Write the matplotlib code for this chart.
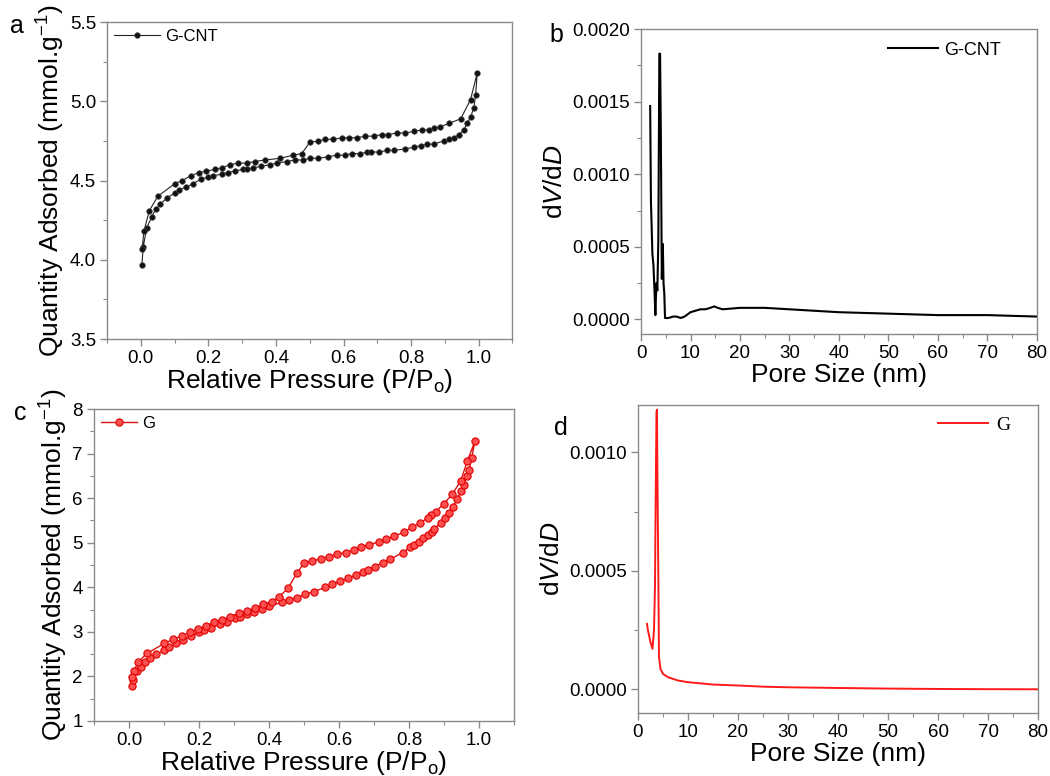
"""
Nitrogen sorption isotherms and pore size distributions
for the G-CNT and G samples (four panel figure).
"""
import matplotlib.pyplot as plt
from matplotlib.ticker import MultipleLocator

plt.rcParams['font.family'] = ['Liberation Sans', 'DejaVu Sans']
plt.rcParams['mathtext.fontset'] = 'custom'
plt.rcParams['mathtext.rm'] = 'Liberation Sans'
plt.rcParams['mathtext.it'] = 'Liberation Sans:italic'

# G-CNT isotherm, adsorption branch then desorption branch
gcnt_ads_p = [0.003, 0.007, 0.017, 0.032, 0.044, 0.057, 0.077, 0.10, 0.113, 0.135,
              0.154, 0.179, 0.199, 0.214, 0.239, 0.258, 0.278, 0.303, 0.313, 0.333,
              0.357, 0.382, 0.402, 0.432, 0.456, 0.481, 0.50, 0.525, 0.555, 0.58,
              0.605, 0.625, 0.65, 0.67, 0.68, 0.705, 0.73, 0.75, 0.783, 0.808,
              0.828, 0.848, 0.867, 0.897, 0.912, 0.927, 0.942, 0.956, 0.966, 0.976,
              0.986, 0.991, 0.996]
gcnt_ads_q = [3.97, 4.08, 4.20, 4.27, 4.32, 4.35, 4.39, 4.42, 4.44, 4.46,
              4.48, 4.51, 4.52, 4.53, 4.54, 4.55, 4.56, 4.57, 4.57, 4.58,
              4.59, 4.60, 4.61, 4.62, 4.63, 4.63, 4.64, 4.64, 4.65, 4.66,
              4.66, 4.67, 4.67, 4.68, 4.68, 4.68, 4.69, 4.69, 4.70, 4.71,
              4.72, 4.73, 4.73, 4.75, 4.76, 4.77, 4.79, 4.82, 4.86, 4.90,
              4.96, 5.04, 5.18]
gcnt_des_p = [0.976, 0.947, 0.912, 0.887, 0.867, 0.852, 0.833, 0.808, 0.783, 0.758,
              0.733, 0.713, 0.689, 0.664, 0.64, 0.615, 0.595, 0.57, 0.546, 0.525,
              0.50, 0.476, 0.451, 0.412, 0.368, 0.338, 0.313, 0.289, 0.264, 0.239,
              0.219, 0.194, 0.171, 0.147, 0.123, 0.10, 0.05, 0.025, 0.009, 0.004]
gcnt_des_q = [5.01, 4.89, 4.86, 4.84, 4.83, 4.82, 4.82, 4.81, 4.80, 4.80,
              4.79, 4.79, 4.78, 4.78, 4.77, 4.77, 4.77, 4.76, 4.76, 4.75,
              4.74, 4.67, 4.66, 4.64, 4.63, 4.62, 4.61, 4.61, 4.60, 4.58,
              4.57, 4.56, 4.55, 4.53, 4.50, 4.48, 4.40, 4.31, 4.18, 4.07]

# G-CNT pore size distribution
gcnt_pore = [1.85, 2.0, 2.3, 2.5, 2.7, 2.9, 3.1, 3.3, 3.5, 3.7, 3.85, 4.0, 4.2,
             4.4, 4.55, 4.7, 4.85, 5.5, 6.5, 7.2, 8.0, 8.8, 10, 11, 12, 13, 14,
             14.8, 15.5, 16.5, 20, 25, 30, 40, 50, 60, 70, 80]
gcnt_dvdd = [0.00147, 0.00082, 0.00045, 0.00038, 0.00022, 0.00003, 0.00025,
             0.00020, 0.00055, 0.00183, 0.00183, 0.00130, 0.00028, 0.00052,
             0.00025, 0.00018, 0.00001, 0.00001, 0.00002, 0.00002, 0.00001,
             0.00002, 0.00005, 0.00006, 0.00007, 0.00007, 0.00008, 0.00009,
             0.00008, 0.00007, 0.00008, 0.00008, 0.00007, 0.00005, 0.00004,
             0.00003, 0.00003, 0.00002]

# G isotherm, adsorption branch then desorption branch
g_ads_p = [0.008, 0.012, 0.022, 0.033, 0.045, 0.059, 0.078, 0.101, 0.114, 0.135,
           0.155, 0.177, 0.201, 0.213, 0.235, 0.259, 0.28, 0.303, 0.316, 0.336,
           0.358, 0.381, 0.401, 0.436, 0.458, 0.481, 0.502, 0.528, 0.561, 0.581,
           0.602, 0.626, 0.648, 0.67, 0.682, 0.703, 0.725, 0.747, 0.782, 0.804,
           0.815, 0.828, 0.841, 0.853, 0.865, 0.872, 0.891, 0.903, 0.915, 0.926,
           0.937, 0.948, 0.957, 0.965, 0.972, 0.979, 0.989]
g_ads_q = [1.79, 1.93, 2.12, 2.22, 2.32, 2.41, 2.50, 2.59, 2.65, 2.74,
           2.82, 2.91, 2.99, 3.04, 3.09, 3.17, 3.23, 3.30, 3.33, 3.39,
           3.45, 3.51, 3.58, 3.66, 3.72, 3.77, 3.84, 3.90, 4.00, 4.07,
           4.13, 4.20, 4.28, 4.35, 4.39, 4.46, 4.55, 4.63, 4.78, 4.90,
           4.96, 5.02, 5.10, 5.17, 5.25, 5.31, 5.45, 5.55, 5.67, 5.81,
           5.97, 6.15, 6.30, 6.50, 6.63, 6.91, 7.29]
g_des_p = [0.967, 0.948, 0.924, 0.90, 0.877, 0.863, 0.853, 0.832, 0.808, 0.785,
           0.758, 0.735, 0.713, 0.687, 0.664, 0.642, 0.619, 0.595, 0.572, 0.548,
           0.524, 0.50, 0.479, 0.455, 0.429, 0.408, 0.384, 0.36, 0.336, 0.313,
           0.289, 0.265, 0.242, 0.221, 0.197, 0.173, 0.152, 0.126, 0.101, 0.052,
           0.027, 0.014, 0.008]
g_des_q = [6.84, 6.39, 6.09, 5.88, 5.70, 5.62, 5.56, 5.44, 5.35, 5.23,
           5.15, 5.08, 5.02, 4.95, 4.91, 4.84, 4.78, 4.74, 4.69, 4.64,
           4.59, 4.54, 4.31, 3.98, 3.79, 3.68, 3.62, 3.53, 3.47, 3.42,
           3.34, 3.27, 3.21, 3.14, 3.06, 2.99, 2.91, 2.83, 2.74, 2.52,
           2.33, 2.13, 1.99]

# G pore size distribution
g_pore = [1.8, 2.0, 2.5, 2.9, 3.2, 3.4, 3.5, 3.7, 3.8, 3.9, 4.05, 4.2, 4.5,
          5.0, 6.0, 8.0, 10, 15, 20, 25, 30, 40, 50, 60, 70, 80]
g_dvdd = [0.000276, 0.000248, 0.000199, 0.000171, 0.000248, 0.00043, 0.00071,
          0.00117, 0.00118, 0.00088, 0.00053, 0.000135, 0.000086, 0.000065,
          0.000051, 0.000037, 0.00003, 0.00002, 0.000016, 0.000011, 0.0000085,
          0.0000056, 0.000003, 0.0000014, 0.0000005, 0.0]

SPINE = '#8a8a8a'
TICK_SIZE = 13.5
LABEL_SIZE = 19


def style_axes(ax):
    """Grey frame, outward ticks on bottom and left only."""
    for side in ax.spines.values():
        side.set_color(SPINE)
        side.set_linewidth(1.0)
    ax.tick_params(which='both', direction='out', color=SPINE,
                   labelsize=TICK_SIZE, top=False, right=False)
    ax.tick_params(which='major', length=5, width=1.0, pad=3)
    ax.tick_params(which='minor', length=3, width=0.8)


fig = plt.figure(figsize=(10.5, 7.76), dpi=100)

ax_a = fig.add_axes([0.102, 0.5631, 0.386, 0.4085])
ax_b = fig.add_axes([0.6105, 0.5696, 0.377, 0.393])
ax_c = fig.add_axes([0.0895, 0.0709, 0.40, 0.402])
ax_d = fig.add_axes([0.6076, 0.0812, 0.381, 0.397])

# panel a: G-CNT isotherm
ax_a.plot(gcnt_ads_p + gcnt_des_p, gcnt_ads_q + gcnt_des_q, color='#222222',
          lw=0.8, marker='o', ms=4, mfc='#111111', mec='#444444', mew=0.5,
          label='G-CNT')
ax_a.set_xlim(-0.1, 1.1)
ax_a.set_ylim(3.5, 5.5)
ax_a.xaxis.set_minor_locator(MultipleLocator(0.1))
ax_a.yaxis.set_major_locator(MultipleLocator(0.5))
ax_a.yaxis.set_minor_locator(MultipleLocator(0.25))
ax_a.set_xticks([0.0, 0.2, 0.4, 0.6, 0.8, 1.0])
ax_a.set_xlabel('Relative Pressure (P/P$_{\\rm o}$)', fontsize=LABEL_SIZE, labelpad=0)
ax_a.set_ylabel('Quantity Adsorbed (mmol.g$^{-1}$)', fontsize=LABEL_SIZE, labelpad=2)
ax_a.legend(loc='upper left', frameon=False, fontsize=12, handlelength=2.8,
            borderaxespad=0.1, handletextpad=0.3, borderpad=0.3)

# panel b: G-CNT pore size distribution
ax_b.plot(gcnt_pore, gcnt_dvdd, color='black', lw=1.5, label='G-CNT')
ax_b.set_xlim(0, 80)
ax_b.set_ylim(-0.0001, 0.0020)
ax_b.xaxis.set_major_locator(MultipleLocator(10))
ax_b.xaxis.set_minor_locator(MultipleLocator(5))
ax_b.yaxis.set_major_locator(MultipleLocator(0.0005))
ax_b.yaxis.set_minor_locator(MultipleLocator(0.00025))
ax_b.yaxis.set_major_formatter(lambda v, pos: f'{v:.4f}')
ax_b.set_xlabel('Pore Size (nm)', fontsize=LABEL_SIZE, labelpad=1)
ax_b.set_ylabel('d$\\it{V}$/d$\\it{D}$', fontsize=LABEL_SIZE, labelpad=4)
ax_b.legend(loc='upper right', frameon=False, fontsize=13, handlelength=2.8,
            borderaxespad=0.3, handletextpad=0.3, bbox_to_anchor=(0.94, 1.0))

# panel c: G isotherm
ax_c.plot(g_ads_p + g_des_p, g_ads_q + g_des_q, color='#e01010', lw=1.0,
          marker='o', ms=5.2, mfc='#ff5050', mec='#e00000', mew=0.8, label='G')
ax_c.set_xlim(-0.1, 1.1)
ax_c.set_ylim(1, 8)
ax_c.set_xticks([0.0, 0.2, 0.4, 0.6, 0.8, 1.0])
ax_c.xaxis.set_minor_locator(MultipleLocator(0.1))
ax_c.yaxis.set_major_locator(MultipleLocator(1))
ax_c.yaxis.set_minor_locator(MultipleLocator(0.5))
ax_c.set_xlabel('Relative Pressure (P/P$_{\\rm o}$)', fontsize=LABEL_SIZE, labelpad=0)
ax_c.set_ylabel('Quantity Adsorbed (mmol.g$^{-1}$)', fontsize=LABEL_SIZE, labelpad=2)
ax_c.legend(loc='upper left', frameon=False, fontsize=12, handlelength=2.2,
            borderaxespad=0.1, handletextpad=0.3, borderpad=0.3)

# panel d: G pore size distribution
ax_d.plot(g_pore, g_dvdd, color='#ff1a1a', lw=1.4, label='G')
ax_d.set_xlim(0, 80)
ax_d.set_ylim(-0.0001, 0.0012)
ax_d.xaxis.set_major_locator(MultipleLocator(10))
ax_d.xaxis.set_minor_locator(MultipleLocator(5))
ax_d.yaxis.set_major_locator(MultipleLocator(0.0005))
ax_d.yaxis.set_minor_locator(MultipleLocator(0.00025))
ax_d.yaxis.set_major_formatter(lambda v, pos: f'{v:.4f}')
ax_d.set_xlabel('Pore Size (nm)', fontsize=LABEL_SIZE, labelpad=1)
ax_d.set_ylabel('d$\\it{V}$/d$\\it{D}$', fontsize=LABEL_SIZE, labelpad=4)
ax_d.legend(loc='upper right', frameon=False, handlelength=2.6,
            borderaxespad=0.2, handletextpad=0.4,
            prop={'family': 'Liberation Serif', 'size': 14},
            bbox_to_anchor=(0.96, 1.0))

for ax in (ax_a, ax_b, ax_c, ax_d):
    style_axes(ax)

# panel letters
fig.text(0.016, 0.966, 'a', fontsize=18, va='center', ha='center')
fig.text(0.530, 0.955, 'b', fontsize=18, va='center', ha='center')
fig.text(0.019, 0.468, 'c', fontsize=18, va='center', ha='center')
fig.text(0.534, 0.449, 'd', fontsize=18, va='center', ha='center')

fig.savefig('out.png', dpi=100)
